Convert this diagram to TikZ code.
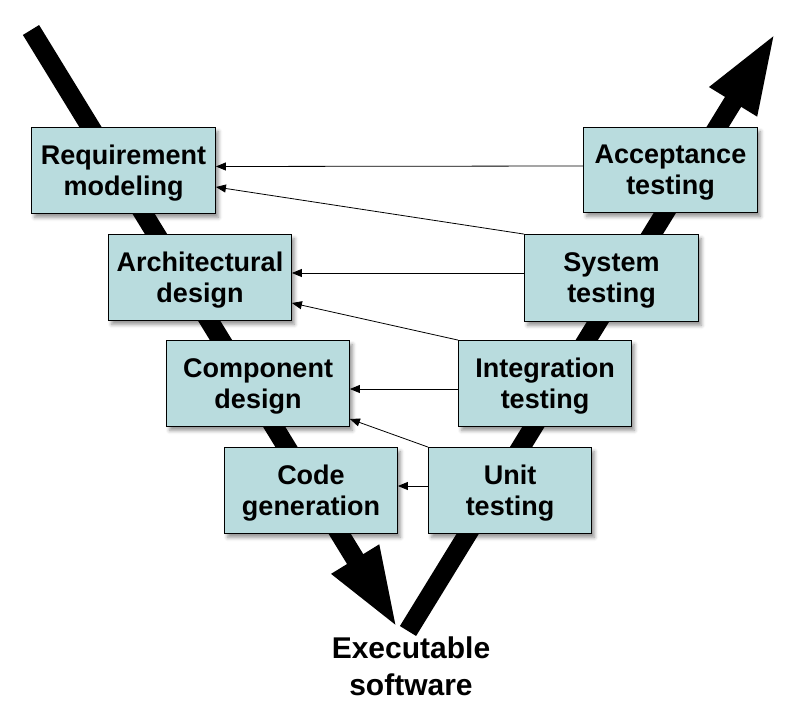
\documentclass[tikz,border=0pt]{standalone}
\usepackage{fontspec}
\setmainfont{Liberation Sans}
\usetikzlibrary{arrows.meta}
\usetikzlibrary{shadows.blur}
\definecolor{phaseteal}{RGB}{185,220,222}

\begin{document}
\begin{tikzpicture}[x=1pt, y=-1pt,
    phase/.style={draw=black, line width=1.3pt, fill=phaseteal, align=center, inner sep=0pt,
                  font=\fontsize{27}{31}\selectfont\bfseries, text depth=-3pt,
                  blur shadow={shadow xshift=3pt, shadow yshift=-4pt, shadow blur radius=4pt, shadow opacity=45}},
    trace/.style={-{Triangle[length=10pt, width=8pt]}, line width=0.8pt},
    flow/.style={line width=19pt, -{Triangle[length=82pt, width=50pt]}}]

\draw[draw=none, use as bounding box] (0, 0) rectangle (801, 722);

% the V
\coordinate (vstart) at (31, 30);
\coordinate (vbottom) at (398, 629);
\coordinate (vturn) at (408, 631);
\coordinate (vend) at (776, 32);
\draw [flow] (vstart) -- (vbottom);
\draw [flow] (vturn) -- (vend);

% left side
\node [phase, minimum width=183.5pt, minimum height=85.5pt] (req) at (123.5, 170.5) {Requirement\\modeling};
\node [phase, minimum width=182.5pt, minimum height=85.5pt] (arch) at (200, 277.5) {Architectural\\design};
\node [phase, minimum width=182.5pt, minimum height=85.5pt] (comp) at (258, 383.5) {Component\\design};
\node [phase, minimum width=172.5pt, minimum height=85.5pt] (code) at (311, 490.5) {Code\\generation};

% right side
\node [phase, minimum width=173.5pt, minimum height=84.5pt] (acc) at (670.5, 170) {Acceptance\\testing};
\node [phase, minimum width=173.5pt, minimum height=86.5pt] (sys) at (611.5, 278) {System\\testing};
\node [phase, minimum width=172.5pt, minimum height=85.5pt] (integ) at (545, 383.5) {Integration\\testing};
\node [phase, minimum width=162.5pt, minimum height=85.5pt] (unit) at (510, 490.5) {Unit\\testing};

\node [align=center, inner sep=0pt, font=\fontsize{30}{37}\selectfont\bfseries] (exe) at (411, 666) {Executable\\software};

% test links
\draw [trace] ([yshift=4pt]acc.west) -- ([yshift=4pt]req.east);
\draw [trace] (sys.north west) -- ([yshift=-16.5pt]req.east);
\draw [trace] ([yshift=5pt]sys.west) -- ([yshift=4.5pt]arch.east);
\draw [trace] (integ.north west) -- ([yshift=-25.5pt]arch.east);
\draw [trace] ([yshift=-5.5pt]integ.west) -- ([yshift=-5.5pt]comp.east);
\draw [trace] (unit.north west) -- ([yshift=-35.5pt]comp.east);
\draw [trace] ([yshift=4.5pt]unit.west) -- ([yshift=4.5pt]code.east);
\end{tikzpicture}
\end{document}
